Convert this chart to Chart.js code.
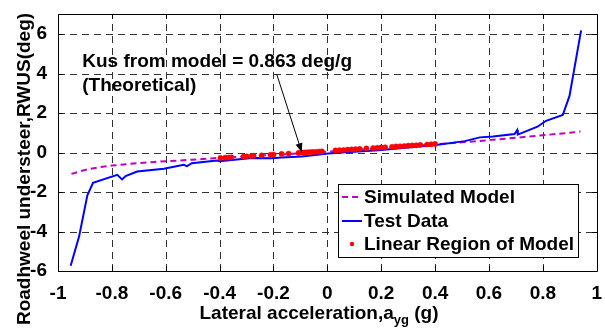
<!DOCTYPE html>
<html>
<head>
<meta charset="utf-8">
<script src="https://cdn.jsdelivr.net/npm/chart.js@4.4.1/dist/chart.umd.min.js"></script>
<style>
    html, body { margin: 0; padding: 0; background: #fff; }
    #wrap { position: relative; width: 605px; height: 330px; }
    #grid-layer { position: absolute; left: 0; top: 0; z-index: 0; }
    #chart { position: absolute; left: 0; top: 0; z-index: 1; }
</style>
</head>
<body>
<div id="wrap">
    <canvas id="grid-layer" width="605" height="330"></canvas>
    <canvas id="chart" width="605" height="330"></canvas>
</div>
<script>
// Axis ticks
const xTicks = [-1, -0.8, -0.6, -0.4, -0.2, 0, 0.2, 0.4, 0.6, 0.8, 1];
const yTicks = [-6, -4, -2, 0, 2, 4, 6];

// Simulated model (dashed magenta)
const simX = [-0.95, -0.9, -0.85, -0.8, -0.7, -0.6, -0.5, -0.4, -0.3, -0.2, -0.1, 0, 0.1, 0.2, 0.3, 0.4, 0.5, 0.6, 0.7, 0.8, 0.9, 0.94];
const simY = [-1.08, -0.88, -0.75, -0.66, -0.53, -0.44, -0.36, -0.27, -0.19, -0.12, -0.04, 0.04, 0.13, 0.22, 0.32, 0.42, 0.52, 0.63, 0.75, 0.88, 1.0, 1.07];

// Test data (solid blue)
const testX = [-0.953, -0.922, -0.891, -0.870, -0.78, -0.762, -0.749, -0.706, -0.607, -0.533, -0.521, -0.503, -0.41, -0.40, -0.28, -0.206, -0.17, -0.095, 0.004, 0.04, 0.19, 0.41, 0.51, 0.566, 0.615, 0.695, 0.705, 0.707, 0.78, 0.812, 0.874, 0.899, 0.942];
const testY = [-5.73, -4.27, -2.17, -1.53, -1.13, -1.36, -1.19, -0.96, -0.82, -0.62, -0.69, -0.54, -0.40, -0.44, -0.28, -0.29, -0.25, -0.2, -0.05, -0.01, 0.12, 0.40, 0.58, 0.77, 0.81, 0.94, 1.14, 0.91, 1.31, 1.61, 1.90, 2.87, 6.19];

// Linear region of model (red dots)
const linX = [-0.397, -0.379, -0.367, -0.356, -0.311, -0.300, -0.281, -0.274, -0.244, -0.211, -0.200, -0.170, -0.144, -0.107, -0.096, -0.089, -0.081, -0.070, -0.059, -0.052, -0.041, -0.030, -0.020, 0.030, 0.045, 0.060, 0.075, 0.090, 0.105, 0.120, 0.145, 0.170, 0.185, 0.200, 0.215, 0.240, 0.255, 0.270, 0.285, 0.300, 0.315, 0.330, 0.345, 0.370, 0.385, 0.400];
const linY = [-0.27, -0.26, -0.25, -0.24, -0.20, -0.19, -0.17, -0.16, -0.14, -0.11, -0.10, -0.07, -0.05, -0.02, -0.01, 0.00, 0.01, 0.02, 0.03, 0.03, 0.04, 0.05, 0.06, 0.11, 0.12, 0.13, 0.15, 0.16, 0.17, 0.19, 0.21, 0.23, 0.24, 0.26, 0.27, 0.29, 0.31, 0.32, 0.33, 0.35, 0.36, 0.37, 0.39, 0.41, 0.42, 0.44];

const FONT = '"Liberation Sans", Arial, sans-serif';

const toPoints = (xs, ys) => xs.map((x, i) => ({ x: x, y: ys[i] }));

// Plot box in pixels, taken from the scales
const plotBox = chart => {
    const xs = chart.scales.x;
    const ys = chart.scales.y;
    return {
        left: Math.round(xs.getPixelForValue(-1)),
        right: Math.round(xs.getPixelForValue(1)),
        top: Math.round(ys.getPixelForValue(7)),
        bottom: Math.round(ys.getPixelForValue(-6))
    };
};

/**
 * Draws grid, box and inner ticks on the canvas under the chart
 */
const drawGridLayer = chart => {
    const layer = document.getElementById('grid-layer');
    const ctx = layer.getContext('2d');
    const box = plotBox(chart);
    const xs = chart.scales.x;
    const ys = chart.scales.y;

    ctx.clearRect(0, 0, layer.width, layer.height);
    ctx.fillStyle = '#fff';
    ctx.fillRect(0, 0, layer.width, layer.height);

    // Dashed grid
    ctx.strokeStyle = '#333';
    ctx.lineWidth = 1;
    ctx.setLineDash([7, 5]);
    xTicks.forEach(v => {
        const px = Math.round(xs.getPixelForValue(v)) + 0.5;
        ctx.beginPath();
        ctx.moveTo(px, box.bottom);
        ctx.lineTo(px, box.top);
        ctx.stroke();
    });
    yTicks.forEach(v => {
        const py = Math.round(ys.getPixelForValue(v)) + 0.5;
        ctx.beginPath();
        ctx.moveTo(box.left, py);
        ctx.lineTo(box.right, py);
        ctx.stroke();
    });

    // Box and inner ticks
    ctx.setLineDash([]);
    ctx.strokeStyle = '#000';
    ctx.lineWidth = 1;
    ctx.beginPath();
    ctx.rect(box.left + 0.5, box.top + 0.5, box.right - box.left, box.bottom - box.top);
    xTicks.forEach(v => {
        const px = Math.round(xs.getPixelForValue(v)) + 0.5;
        ctx.moveTo(px, box.bottom);
        ctx.lineTo(px, box.bottom - 5);
        ctx.moveTo(px, box.top);
        ctx.lineTo(px, box.top + 5);
    });
    yTicks.forEach(v => {
        const py = Math.round(ys.getPixelForValue(v)) + 0.5;
        ctx.moveTo(box.left, py);
        ctx.lineTo(box.left + 5, py);
        ctx.moveTo(box.right, py);
        ctx.lineTo(box.right - 5, py);
    });
    ctx.stroke();
};

/**
 * Draws the annotation, legend and axis titles on the chart canvas
 */
const decorPlugin = {
    id: 'decor',
    afterDatasetsDraw(chart) {
        const ctx = chart.ctx;
        const xs = chart.scales.x;
        const ys = chart.scales.y;

        ctx.save();

        // Annotation text
        ctx.fillStyle = '#000';
        ctx.font = 'bold 19px ' + FONT;
        ctx.textAlign = 'left';
        ctx.textBaseline = 'middle';
        ctx.fillText('Kus from model = 0.863 deg/g', xs.getPixelForValue(-0.91), ys.getPixelForValue(4.6));
        ctx.fillText('(Theoretical)', xs.getPixelForValue(-0.91), ys.getPixelForValue(3.4));

        // Annotation arrow
        const x0 = xs.getPixelForValue(-0.188), y0 = ys.getPixelForValue(3.97);
        const x1 = xs.getPixelForValue(-0.095), y1 = ys.getPixelForValue(0.02);
        const ang = Math.atan2(y1 - y0, x1 - x0);
        ctx.strokeStyle = '#000';
        ctx.lineWidth = 1;
        ctx.beginPath();
        ctx.moveTo(x0, y0);
        ctx.lineTo(x1, y1);
        ctx.stroke();
        ctx.beginPath();
        ctx.moveTo(x1, y1);
        ctx.lineTo(x1 - 9 * Math.cos(ang) + 3.5 * Math.sin(ang), y1 - 9 * Math.sin(ang) - 3.5 * Math.cos(ang));
        ctx.lineTo(x1 - 9 * Math.cos(ang) - 3.5 * Math.sin(ang), y1 - 9 * Math.sin(ang) + 3.5 * Math.cos(ang));
        ctx.closePath();
        ctx.fill();

        // Legend
        const lx = 338, ly = 184, lw = 240, lh = 73;
        ctx.fillStyle = '#fff';
        ctx.fillRect(lx, ly, lw, lh);
        ctx.strokeStyle = '#000';
        ctx.strokeRect(lx + 0.5, ly + 0.5, lw, lh);
        const rows = [ly + 13, ly + 37, ly + 60];
        chart.data.datasets.forEach((ds, i) => {
            const ry = rows[i];
            if (ds.showLine) {
                ctx.beginPath();
                ctx.strokeStyle = ds.borderColor;
                ctx.lineWidth = ds.borderWidth;
                ctx.setLineDash(ds.borderDash || []);
                ctx.moveTo(lx + 4, ry);
                ctx.lineTo(lx + 24, ry);
                ctx.stroke();
                ctx.setLineDash([]);
            } else {
                ctx.beginPath();
                ctx.fillStyle = ds.pointBackgroundColor;
                ctx.arc(lx + 14, ry, 2.2, 0, Math.PI * 2);
                ctx.fill();
            }
            ctx.fillStyle = '#000';
            ctx.font = 'bold 19px ' + FONT;
            ctx.textBaseline = 'middle';
            ctx.fillText(ds.label, lx + 26, ry + 1);
        });

        ctx.restore();
    },
    afterDraw(chart) {
        const ctx = chart.ctx;
        ctx.save();
        ctx.fillStyle = '#000';
        ctx.font = 'bold 19px ' + FONT;

        // Y axis title
        ctx.translate(25, 169);
        ctx.rotate(-Math.PI / 2);
        ctx.textAlign = 'center';
        ctx.textBaseline = 'middle';
        ctx.fillText('Roadhweel understeer,RWUS(deg)', 0, 0);
        ctx.setTransform(1, 0, 0, 1, 0, 0);

        // X axis title with subscript
        const main = 'Lateral acceleration,a';
        const sub = 'yg';
        const tail = ' (g)';
        ctx.textAlign = 'left';
        ctx.textBaseline = 'alphabetic';
        const wMain = ctx.measureText(main).width;
        const wTail = ctx.measureText(tail).width;
        ctx.font = 'bold 13px ' + FONT;
        const wSub = ctx.measureText(sub).width;
        let x = 319 - (wMain + wSub + wTail) / 2;
        const base = 319;
        ctx.font = 'bold 19px ' + FONT;
        ctx.fillText(main, x, base);
        x += wMain;
        ctx.font = 'bold 13px ' + FONT;
        ctx.fillText(sub, x, base + 5);
        x += wSub;
        ctx.font = 'bold 19px ' + FONT;
        ctx.fillText(tail, x, base);
        ctx.restore();
    },
    afterRender(chart) {
        drawGridLayer(chart);
    }
};

const chart = new Chart(document.getElementById('chart').getContext('2d'), {
    type: 'scatter',
    data: {
        datasets: [
            {
                label: 'Simulated Model',
                data: toPoints(simX, simY),
                showLine: true,
                borderColor: '#c000c0',
                borderWidth: 2,
                borderDash: [6, 4],
                pointRadius: 0,
                tension: 0,
                order: 3
            },
            {
                label: 'Test Data',
                data: toPoints(testX, testY),
                showLine: true,
                borderColor: '#0000ff',
                borderWidth: 2,
                pointRadius: 0,
                tension: 0,
                order: 2
            },
            {
                label: 'Linear Region of Model',
                data: toPoints(linX, linY),
                showLine: false,
                pointRadius: 2.6,
                pointBackgroundColor: '#ff0000',
                pointBorderColor: '#ff0000',
                pointBorderWidth: 0.5,
                order: 1
            }
        ]
    },
    options: {
        responsive: false,
        animation: false,
        layout: {
            padding: { left: 0, right: 7, top: 13, bottom: 0 }
        },
        plugins: {
            legend: { display: false },
            tooltip: { enabled: false }
        },
        scales: {
            x: {
                type: 'linear',
                min: -1,
                max: 1,
                afterBuildTicks: scale => { scale.ticks = xTicks.map(v => ({ value: v })); },
                afterFit: scale => { scale.height = 59; },
                ticks: {
                    color: '#000',
                    font: { family: FONT, size: 19, weight: 'bold' },
                    padding: 3,
                    maxRotation: 0,
                    autoSkip: false,
                    callback: v => String(Math.round(v * 10) / 10)
                },
                grid: { display: false },
                border: { display: false }
            },
            y: {
                type: 'linear',
                min: -6,
                max: 7,
                afterBuildTicks: scale => { scale.ticks = yTicks.map(v => ({ value: v })); },
                afterFit: scale => { scale.width = 58; },
                ticks: {
                    color: '#000',
                    font: { family: FONT, size: 19, weight: 'bold' },
                    padding: 3,
                    autoSkip: false,
                    callback: v => String(v)
                },
                grid: { display: false },
                border: { display: false }
            }
        }
    },
    plugins: [decorPlugin]
});

// Draw once more after layout has settled
setTimeout(() => chart.draw(), 50);
</script>
</body>
</html>
